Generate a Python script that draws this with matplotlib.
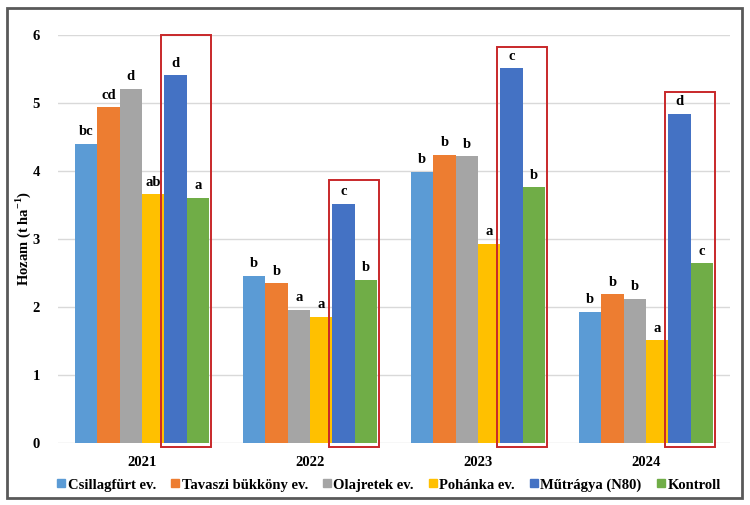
import matplotlib
matplotlib.use('Agg')
from matplotlib import pyplot as plt
from matplotlib.patches import Rectangle
from matplotlib.lines import Line2D
import numpy as np

plt.rcParams['font.family'] = ['Liberation Serif', 'DejaVu Serif']
plt.rcParams['font.weight'] = 'bold'
plt.rcParams['mathtext.fontset'] = 'custom'
plt.rcParams['mathtext.rm'] = 'Liberation Serif:bold'
plt.rcParams['mathtext.bf'] = 'Liberation Serif:bold'

years = ['2021', '2022', '2023', '2024']
series = ['Csillagfürt ev.', 'Tavaszi bükköny ev.', 'Olajretek ev.',
          'Pohánka ev.', 'Műtrágya (N80)', 'Kontroll']
colors = ['#5B9BD5', '#ED7D31', '#A5A5A5', '#FFC000', '#4472C4', '#70AD47']

csillag = [4.40, 2.46, 3.99, 1.93]
bukkony = [4.94, 2.35, 4.24, 2.19]
olajretek = [5.21, 1.96, 4.22, 2.12]
pohanka = [3.66, 1.86, 2.93, 1.51]
mutragya = [5.41, 3.52, 5.51, 4.84]
kontroll = [3.61, 2.40, 3.76, 2.64]

letters_csillag = ['bc', 'b', 'b', 'b']
letters_bukkony = ['cd', 'b', 'b', 'b']
letters_olajretek = ['d', 'a', 'b', 'b']
letters_pohanka = ['ab', 'a', 'a', 'a']
letters_mutragya = ['d', 'c', 'c', 'd']
letters_kontroll = ['a', 'b', 'b', 'c']

# top of the red highlight boxes (data units)
box_tops = [6.0, 3.87, 5.82, 5.16]

values = [csillag, bukkony, olajretek, pohanka, mutragya, kontroll]
letters = [letters_csillag, letters_bukkony, letters_olajretek,
           letters_pohanka, letters_mutragya, letters_kontroll]

fig = plt.figure(figsize=(7.5, 5.05), dpi=100)
ax = fig.add_axes([58 / 750, 62 / 505, 672 / 750, 408 / 505])

x = np.arange(len(years))
width = 0.8 / len(series)
for i, (vals, labs) in enumerate(zip(values, letters)):
    pos = x - 0.4 + width * (i + 0.5)
    ax.bar(pos, vals, width, color=colors[i], label=series[i], zorder=2)
    for p, v, l in zip(pos, vals, labs):
        ax.text(p, v + 0.08, l, ha='center', va='bottom', fontsize=10.5,
                fontweight='bold')

# red boxes around Műtrágya + Kontroll bars
for j in range(len(years)):
    left = x[j] - 0.4 + width * 4 - 0.018
    right = x[j] + 0.4 + 0.012
    ax.add_patch(Rectangle((left, -0.06), right - left, box_tops[j] + 0.06,
                           fill=False, edgecolor='#C8282A', lw=1.4,
                           clip_on=False, zorder=3))

ax.set_xlim(-0.5, 3.5)
ax.set_ylim(0, 6)
ax.set_yticks(range(7))
ax.set_xticks(x)
ax.set_xticklabels(years, fontsize=10.5, fontweight='bold')
ax.tick_params(axis='both', length=0, labelsize=10.5)
ax.tick_params(axis='x', pad=9)
ax.tick_params(axis='y', pad=13)
ax.grid(axis='y', color='#D9D9D9', lw=1, zorder=0)
for s in ax.spines.values():
    s.set_visible(False)
ax.set_ylabel(r'Hozam (t ha$^{\mathbf{-1}}$)', fontsize=10.5, fontweight='bold')
ax.yaxis.set_label_coords(-25 / 672, 0.5)

handles = [Line2D([], [], marker='s', ls='none', color=c, markersize=6)
           for c in colors]
fig.legend(handles, series, loc='center', bbox_to_anchor=(388 / 750, 1 - 485 / 505),
           ncol=6, frameon=False, fontsize=10.5, handletextpad=0.05,
           columnspacing=0.9, handlelength=0.8)

fig.patches.append(Rectangle((7 / 750, 7 / 505), 735 / 750, 490 / 505,
                             transform=fig.transFigure, fill=False,
                             edgecolor='#595959', lw=2))

fig.savefig('out.png', dpi=100)
